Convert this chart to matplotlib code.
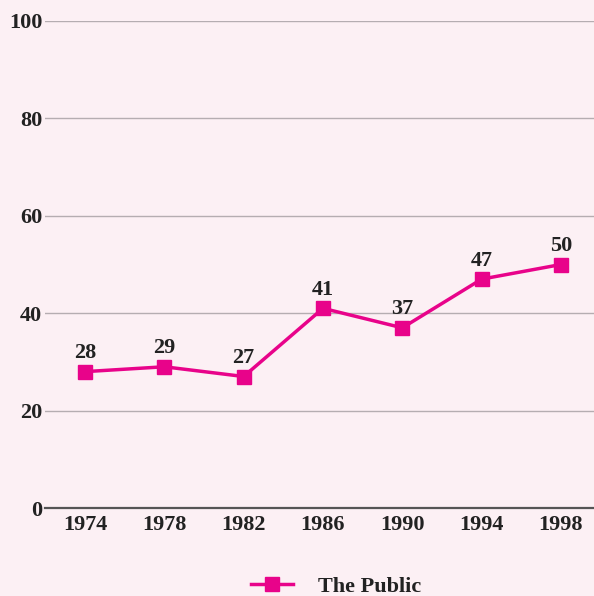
import matplotlib.pyplot as plt

years = ["1974", "1978", "1982", "1986", "1990", "1994", "1998"]
public = [28, 29, 27, 41, 37, 47, 50]
yticks = [0, 20, 40, 60, 80, 100]

BG = "#fcf0f4"
PINK = "#e8038a"
INK = "#222222"
FONT = dict(family="Liberation Serif", weight="bold", size=16)


def main():
    fig = plt.figure(figsize=(5.94, 5.96), dpi=100, facecolor=BG)
    ax = fig.add_axes([45 / 594, 88 / 596, 549 / 594, 487 / 596])
    ax.set_facecolor(BG)

    x = list(range(len(years)))
    ax.plot(x, public, color=PINK, lw=2.5, marker="s", markersize=9.5,
            label="The Public", clip_on=False, zorder=3)
    for xi, v in zip(x, public):
        ax.annotate(str(v), (xi, v), xytext=(0, 6), textcoords="offset points",
                    ha="center", va="bottom", color=INK, **FONT)

    ax.set_ylim(0, 100)
    ax.set_xlim(-0.504, 6.416)
    ax.set_yticks(yticks)
    ax.set_xticks(x)
    ax.set_xticklabels(years)
    for lab in ax.get_xticklabels() + ax.get_yticklabels():
        lab.set_fontfamily(FONT["family"])
        lab.set_fontweight("bold")
        lab.set_fontsize(FONT["size"])
        lab.set_color(INK)
    ax.tick_params(axis="y", length=0, pad=2)
    ax.tick_params(axis="x", length=0, pad=5)
    ax.grid(axis="y", color="#b5adb1", lw=1)
    ax.set_axisbelow(True)
    for s in ["top", "right", "left"]:
        ax.spines[s].set_visible(False)
    ax.spines["bottom"].set_color("#555555")
    ax.spines["bottom"].set_linewidth(1.6)

    leg = ax.legend(loc="center", bbox_to_anchor=(0.53, -0.162), frameon=False,
                    handlelength=1.9, handletextpad=1.1, prop=FONT)
    for t in leg.get_texts():
        t.set_color(INK)

    fig.savefig("out.png", facecolor=BG)


if __name__ == "__main__":
    main()
